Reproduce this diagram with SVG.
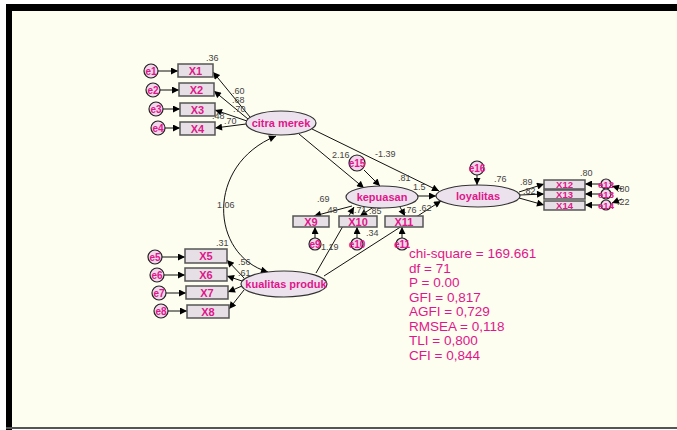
<svg xmlns="http://www.w3.org/2000/svg" width="677" height="430" viewBox="0 0 677 430">
<defs>
<marker id="ah" viewBox="0 0 10 10" refX="10" refY="5" markerWidth="9" markerHeight="7" markerUnits="userSpaceOnUse" orient="auto-start-reverse">
<path d="M0,0 L10,5 L0,10 z" fill="#000"/>
</marker>
<style>
.box{fill:#e6e0e6;stroke:#555;stroke-width:1.5}
.lat{fill:#ece2ee;stroke:#333;stroke-width:1.2}
.err{fill:#f2d6ec;stroke:#222;stroke-width:1.2}
.lbl{font-family:"Liberation Sans",Arial,sans-serif;font-weight:bold;fill:#e0168a;text-anchor:middle}
.nl{font-size:11px}
.sl{font-size:9.5px}
.el{font-size:10px}
.num{font-family:"Liberation Sans",Arial,sans-serif;font-size:9px;fill:#444}
.fit{font-family:"Liberation Sans",Arial,sans-serif;font-size:13.5px;fill:#e0168a}
.c{fill:none;stroke:#111;stroke-width:1;marker-end:url(#ah)}
</style>
</defs>
<rect x="0" y="0" width="677" height="430" fill="#fff"/>
<rect x="6" y="5" width="671" height="424" fill="#fdfdf0"/>
<rect x="6" y="4" width="671" height="7" fill="#000"/>
<rect x="6" y="4" width="6" height="426" fill="#000"/>
<rect x="6" y="427" width="671" height="2" fill="#555"/>

<g id="connectors">
<line class="c" x1="158" y1="71" x2="178" y2="71"/>
<line class="c" x1="160" y1="90" x2="179" y2="90"/>
<line class="c" x1="163" y1="109" x2="180" y2="109"/>
<line class="c" x1="165" y1="128" x2="180" y2="128"/>
<line class="c" x1="250" y1="117" x2="213" y2="72"/>
<line class="c" x1="248" y1="119" x2="214" y2="91"/>
<line class="c" x1="247" y1="121" x2="215" y2="110"/>
<line class="c" x1="246" y1="124" x2="215" y2="128"/>
<line class="c" x1="162" y1="257" x2="185" y2="257"/>
<line class="c" x1="164" y1="275" x2="185" y2="275"/>
<line class="c" x1="166" y1="293" x2="186" y2="293"/>
<line class="c" x1="168" y1="311" x2="187" y2="311"/>
<line class="c" x1="244" y1="278" x2="227" y2="260"/>
<line class="c" x1="242" y1="281" x2="227" y2="276"/>
<line class="c" x1="242" y1="286" x2="228" y2="292"/>
<line class="c" x1="244" y1="290" x2="229" y2="309"/>
<path d="M 276 136 C 205 165, 210 255, 268 272" fill="none" stroke="#111" stroke-width="1" marker-start="url(#ah)" marker-end="url(#ah)"/>
<line class="c" x1="299" y1="134" x2="364" y2="188"/>
<line class="c" x1="312" y1="129" x2="439" y2="191"/>
<line class="c" x1="364" y1="170" x2="380" y2="186"/>
<line class="c" x1="316" y1="273" x2="354" y2="207"/>
<line class="c" x1="324" y1="276" x2="441" y2="201"/>
<line class="c" x1="418" y1="196" x2="436" y2="196"/>
<line class="c" x1="352" y1="206" x2="314" y2="216"/>
<line class="c" x1="372" y1="208" x2="360" y2="216"/>
<line class="c" x1="400" y1="207" x2="405" y2="216"/>
<line class="c" x1="315" y1="238" x2="315" y2="227"/>
<line class="c" x1="357" y1="238" x2="357" y2="227"/>
<line class="c" x1="402" y1="238" x2="402" y2="227"/>
<line class="c" x1="477" y1="175" x2="477" y2="185"/>
<line class="c" x1="519" y1="192" x2="544" y2="184"/>
<line class="c" x1="520" y1="195" x2="544" y2="194"/>
<line class="c" x1="519" y1="198" x2="544" y2="205"/>
<line class="c" x1="600" y1="184" x2="585" y2="184"/>
<line class="c" x1="600" y1="194" x2="585" y2="194"/>
<line class="c" x1="600" y1="205" x2="585" y2="205"/>
<line class="c" x1="622" y1="189" x2="612" y2="186"/>
<line class="c" x1="622" y1="199" x2="612" y2="203"/>
</g>

<g id="X1"><rect class="box" x="178" y="64" width="35" height="13"/><text class="lbl nl" x="195.5" y="74.5">X1</text></g>
<g id="X2"><rect class="box" x="179" y="83" width="35" height="13"/><text class="lbl nl" x="196.5" y="93.5">X2</text></g>
<g id="X3"><rect class="box" x="180" y="103" width="35" height="13"/><text class="lbl nl" x="197.5" y="113.5">X3</text></g>
<g id="X4"><rect class="box" x="180" y="122" width="35" height="13"/><text class="lbl nl" x="197.5" y="132.5">X4</text></g>
<g id="e1"><circle class="err" cx="151" cy="71" r="7"/><text class="lbl el" x="151" y="74.5">e1</text></g>
<g id="e2"><circle class="err" cx="153" cy="90" r="7"/><text class="lbl el" x="153" y="93.5">e2</text></g>
<g id="e3"><circle class="err" cx="156" cy="109" r="7"/><text class="lbl el" x="156" y="112.5">e3</text></g>
<g id="e4"><circle class="err" cx="158" cy="128" r="7"/><text class="lbl el" x="158" y="131.5">e4</text></g>
<g id="citra_merek"><ellipse class="lat" cx="281" cy="123" rx="35" ry="12"/><text class="lbl nl" x="281" y="127">citra merek</text></g>

<g id="X5"><rect class="box" x="185" y="249" width="42" height="14"/><text class="lbl nl" x="206" y="260">X5</text></g>
<g id="X6"><rect class="box" x="185" y="268" width="42" height="13"/><text class="lbl nl" x="206" y="278.5">X6</text></g>
<g id="X7"><rect class="box" x="186" y="286" width="42" height="13"/><text class="lbl nl" x="207" y="296.5">X7</text></g>
<g id="X8"><rect class="box" x="187" y="305" width="42" height="13"/><text class="lbl nl" x="208" y="315.5">X8</text></g>
<g id="e5"><circle class="err" cx="155" cy="257" r="7"/><text class="lbl el" x="155" y="260.5">e5</text></g>
<g id="e6"><circle class="err" cx="157" cy="275" r="7"/><text class="lbl el" x="157" y="278.5">e6</text></g>
<g id="e7"><circle class="err" cx="159" cy="293" r="7"/><text class="lbl el" x="159" y="296.5">e7</text></g>
<g id="e8"><circle class="err" cx="161" cy="311" r="7"/><text class="lbl el" x="161" y="314.5">e8</text></g>
<g id="kualitas_produk"><ellipse class="lat" cx="284" cy="284" rx="43" ry="13"/><text class="lbl nl" x="286" y="288">kualitas produk</text></g>

<g id="kepuasan"><ellipse class="lat" cx="382" cy="197" rx="36" ry="11"/><text class="lbl nl" x="382" y="201">kepuasan</text></g>
<g id="e15"><circle class="err" cx="357" cy="163" r="8"/><text class="lbl el" x="357" y="166.5">e15</text></g>
<g id="X9"><rect class="box" x="293" y="216" width="36" height="11"/><text class="lbl nl" x="311" y="225.5">X9</text></g>
<g id="X10"><rect class="box" x="339" y="216" width="38" height="11"/><text class="lbl nl" x="358" y="225.5">X10</text></g>
<g id="X11"><rect class="box" x="385" y="216" width="38" height="11"/><text class="lbl nl" x="404" y="225.5">X11</text></g>
<g id="e9"><circle class="err" cx="315" cy="244" r="6"/><text class="lbl el" x="315" y="247.5">e9</text></g>
<g id="e10"><circle class="err" cx="357" cy="244" r="6"/><text class="lbl el" x="357" y="247.5">e10</text></g>
<g id="e11"><circle class="err" cx="402" cy="244" r="6"/><text class="lbl el" x="402" y="247.5">e11</text></g>

<g id="loyalitas"><ellipse class="lat" cx="478" cy="196" rx="42" ry="11"/><text class="lbl nl" x="478" y="200">loyalitas</text></g>
<g id="e16"><circle class="err" cx="477" cy="168" r="7"/><text class="lbl el" x="477" y="171.5">e16</text></g>
<g id="X12"><rect class="box" x="544" y="180" width="41" height="9"/><text class="lbl sl" x="564.5" y="188">X12</text></g>
<g id="X13"><rect class="box" x="544" y="190" width="41" height="9"/><text class="lbl sl" x="564.5" y="198">X13</text></g>
<g id="X14"><rect class="box" x="544" y="201" width="41" height="9"/><text class="lbl sl" x="564.5" y="209">X14</text></g>
<g id="e12"><circle class="err" cx="606" cy="184" r="5"/><text class="lbl sl" x="606" y="187.5">e12</text></g>
<g id="e13"><circle class="err" cx="606" cy="194" r="5"/><text class="lbl sl" x="606" y="197.5">e13</text></g>
<g id="e14"><circle class="err" cx="606" cy="205" r="5"/><text class="lbl sl" x="606" y="208.5">e14</text></g>

<g id="estimates">
<text class="num" x="206" y="61">.36</text>
<text class="num" x="232" y="94">.60</text>
<text class="num" x="232" y="103">.68</text>
<text class="num" x="233" y="112">.70</text>
<text class="num" x="212" y="119">.48</text>
<text class="num" x="224" y="124">.70</text>
<text class="num" x="216" y="246">.31</text>
<text class="num" x="238" y="265">.56</text>
<text class="num" x="238" y="276">.61</text>
<text class="num" x="217" y="208">1.06</text>
<text class="num" x="332" y="158">2.16</text>
<text class="num" x="375" y="157">-1.39</text>
<text class="num" x="398" y="181">.81</text>
<text class="num" x="413" y="190">1.5</text>
<text class="num" x="317" y="202">.69</text>
<text class="num" x="325" y="213">.48</text>
<text class="num" x="354" y="213">.71</text>
<text class="num" x="369" y="214">.85</text>
<text class="num" x="404" y="213">.76</text>
<text class="num" x="419" y="211">.62</text>
<text class="num" x="321" y="250">1.19</text>
<text class="num" x="366" y="236">.34</text>
<text class="num" x="494" y="182">.76</text>
<text class="num" x="520" y="185">.89</text>
<text class="num" x="523" y="194">.82</text>
<text class="num" x="580" y="176">.80</text>
<text class="num" x="617" y="192">.80</text>
<text class="num" x="617" y="205">.22</text>
</g>

<g id="fit">
<text class="fit" x="409" y="258">chi-square = 169.661</text>
<text class="fit" x="409" y="272.5">df = 71</text>
<text class="fit" x="409" y="287">P = 0.00</text>
<text class="fit" x="409" y="301.5">GFI = 0,817</text>
<text class="fit" x="409" y="316">AGFI = 0,729</text>
<text class="fit" x="409" y="330.5">RMSEA = 0,118</text>
<text class="fit" x="409" y="345">TLI = 0,800</text>
<text class="fit" x="409" y="359.5">CFI = 0,844</text>
</g>
</svg>
